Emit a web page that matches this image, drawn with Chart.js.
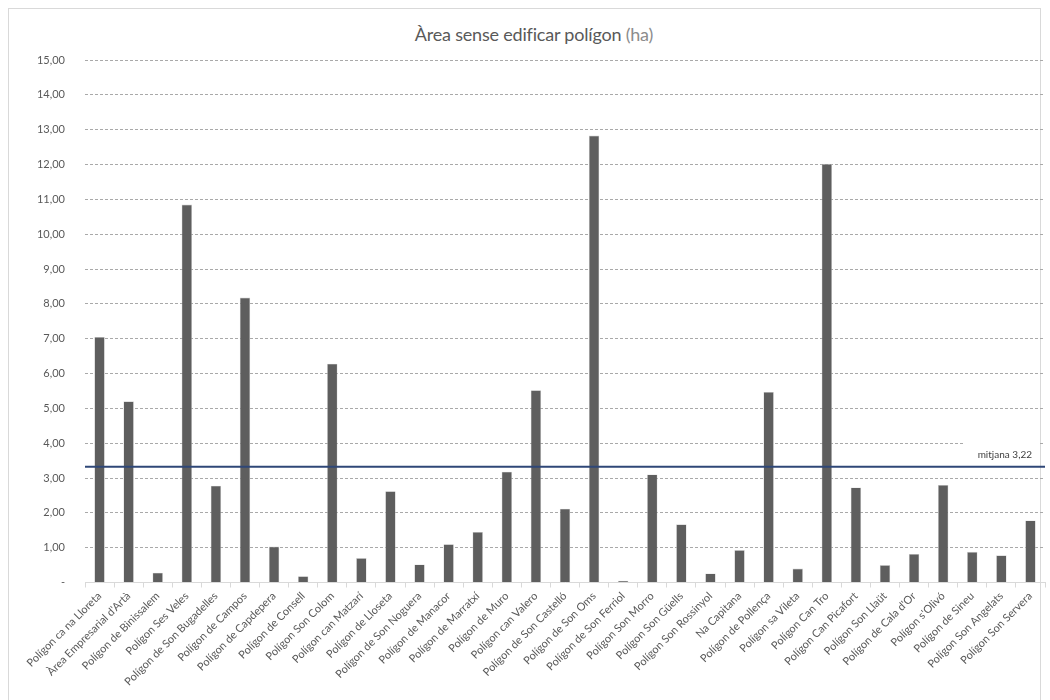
<!DOCTYPE html>
<html>
<head>
<meta charset="utf-8">
<script src="https://cdn.jsdelivr.net/npm/chart.js@4"></script>
<style>
  html, body { margin: 0; padding: 0; background: #fff; }
  #wrap { position: relative; width: 1050px; height: 700px; overflow: hidden; }
  #frame { position: absolute; left: 8px; top: 8px; width: 1033px; height: 720px; border: 1px solid #d9d9d9; box-sizing: border-box; }
  #title { position: absolute; left: 0; width: 1068px; top: 23px; text-align: center; font-family: Lato, "Open Sans", sans-serif; font-size: 18px; color: #595959; letter-spacing: -0.2px; }
  #title .unit { color: #8c8c8c; }
  canvas { position: absolute; left: 0; top: 0; }
</style>
</head>
<body>
<div id="wrap">
  <div id="frame"></div>
  <div id="title">Àrea sense edificar polígon <span class="unit">(ha)</span></div>
  <canvas id="c" width="1050" height="700"></canvas>
</div>
<script>
const categories = [
  "Polígon ca na Lloreta", "Àrea Empresarial d'Artà", "Polígon de Binissalem", "Polígon Ses Veles",
  "Polígon de Son Bugadelles", "Polígon de Campos", "Polígon de Capdepera", "Polígon de Consell",
  "Polígon Son Colom", "Polígon can Matzarí", "Polígon de Lloseta", "Polígon de Son Noguera",
  "Polígon de Manacor", "Polígon de Marratxí", "Polígon de Muro", "Polígon can Valero",
  "Polígon de Son Castelló", "Polígon de Son Oms", "Polígon de Son Ferriol", "Polígon Son Morro",
  "Polígon Son Güells", "Polígon Son Rossinyol", "Na Capitana", "Polígon de Pollença",
  "Polígon sa Vileta", "Polígon Can Tro", "Polígon Can Picafort", "Polígon Son Llaüt",
  "Polígon de Cala d'Or", "Polígon s'Olivó", "Polígon de Sineu", "Polígon Son Angelats",
  "Polígon Son Servera"
];
const areaValues = [
  7.05, 5.20, 0.28, 10.85,
  2.78, 8.18, 1.03, 0.18,
  6.28, 0.70, 2.62, 0.52,
  1.10, 1.45, 3.18, 5.52,
  2.12, 12.83, 0.05, 3.10,
  1.67, 0.26, 0.93, 5.47,
  0.40, 12.02, 2.73, 0.50,
  0.82, 2.80, 0.88, 0.78,
  1.78
];
const meanLineValue = 3.32;
const meanLabel = "mitjana 3,22";
const yTickValues = [0,1,2,3,4,5,6,7,8,9,10,11,12,13,14,15];
const yTickLabels = ["-", "1,00", "2,00", "3,00", "4,00", "5,00", "6,00", "7,00", "8,00", "9,00", "10,00", "11,00", "12,00", "13,00", "14,00", "15,00"];

const FONT = "Lato, 'Open Sans', sans-serif";
const TEXT = "#595959";

const meanPlugin = {
  id: 'meanLine',
  afterDatasetsDraw(chart) {
    const { ctx, chartArea, scales } = chart;
    const y = scales.y.getPixelForValue(meanLineValue);
    const y4 = scales.y.getPixelForValue(4);
    ctx.save();
    ctx.fillStyle = '#ffffff';
    ctx.fillRect(963, y4 - 2, Math.min(chartArea.right, 1040) - 963, y - y4 - 2);
    ctx.strokeStyle = '#2f4777';
    ctx.lineWidth = 2;
    ctx.beginPath();
    ctx.moveTo(chartArea.left, y);
    ctx.lineTo(chartArea.right, y);
    ctx.stroke();
    ctx.fillStyle = '#404040';
    ctx.font = "10px " + FONT;
    ctx.textAlign = 'right';
    ctx.textBaseline = 'middle';
    ctx.fillText(meanLabel, 1032, y - 12);
    ctx.restore();
  }
};

new Chart(document.getElementById('c'), {
  type: 'bar',
  data: {
    labels: categories,
    datasets: [{
      data: areaValues,
      backgroundColor: '#5e5e5e',
      borderColor: '#d0d0d0',
      borderWidth: 0.6,
      barPercentage: 0.36,
      categoryPercentage: 1.0
    }]
  },
  options: {
    responsive: false,
    animation: false,
    layout: { padding: { top: 60, right: 5, left: 0, bottom: 0 } },
    plugins: { legend: { display: false }, title: { display: false }, tooltip: { enabled: false } },
    scales: {
      x: {
        offset: true,
        grid: { display: true, offset: true, drawOnChartArea: false, drawTicks: true, tickLength: 5, color: '#d9d9d9' },
        border: { display: true, color: '#d9d9d9', width: 1 },
        ticks: {
          autoSkip: false, maxRotation: 45, minRotation: 45, padding: 2,
          color: TEXT, font: { family: FONT, size: 11 }
        },
        afterFit(scale) { scale.height = 117.5; }
      },
      y: {
        min: 0, max: 15,
        afterBuildTicks(scale) { scale.ticks = yTickValues.map(v => ({ value: v })); },
        grid: {
          drawTicks: false,
          color: (c) => c.tick && c.tick.value === 0 ? 'rgba(0,0,0,0)' : '#a9a9a9',
          lineWidth: 1
        },
        border: { display: false, dash: [3, 2] },
        ticks: {
          padding: 20,
          color: TEXT, font: { family: FONT, size: 11 },
          callback: (v) => yTickLabels[yTickValues.indexOf(v)]
        },
        afterFit(scale) { scale.width = 85; }
      }
    }
  },
  plugins: [meanPlugin]
});
</script>
</body>
</html>
